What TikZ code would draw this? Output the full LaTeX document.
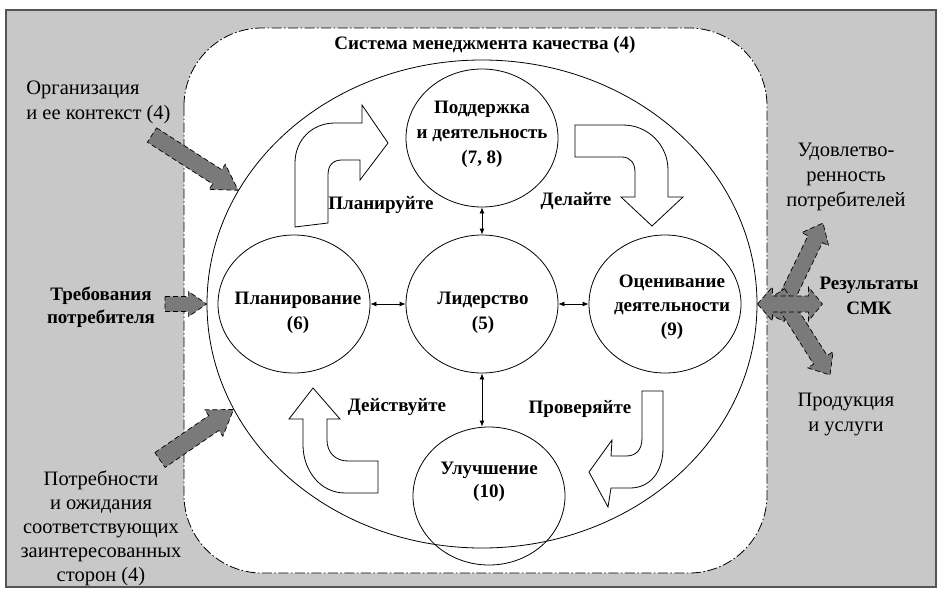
\documentclass[tikz,border=0pt]{standalone}
\usepackage{fontspec}
\setmainfont{Liberation Serif}
\usetikzlibrary{positioning,calc,shapes.geometric,arrows.meta}

\definecolor{bggray}{RGB}{200,200,200}
\definecolor{arrgray}{RGB}{122,122,122}
\definecolor{framegray}{RGB}{85,85,85}

\tikzset{
  bub/.style={draw, ellipse, minimum width=152pt, minimum height=138pt, inner sep=0pt},
  btxt/.style={font=\bfseries\fontsize{19}{25}\selectfont, align=center, inner sep=0pt},
  rtxt/.style={font=\fontsize{20.5}{25}\selectfont, align=center, inner sep=0pt},
  grayarr/.style={draw, fill=arrgray, line width=0.7pt, dash pattern=on 5pt off 3pt},
  turnarr/.style={draw, fill=white, line width=0.8pt},
  dbl/.style={{Latex[length=6pt,width=5pt]}-{Latex[length=6pt,width=5pt]}, line width=0.8pt},
  dashdot/.style={dash pattern=on 10pt off 2.5pt on 1.5pt off 2.5pt}
}

% gray block arrow: tail, tip, shaft half width, head half width, head length
\newcommand\blockarr[5]{%
  \coordinate (ba) at ($(#2)!#5!(#1)$);
  \draw[grayarr] ($(#1)!#3!90:(#2)$) -- ($(ba)!#3!-90:(#1)$) -- ($(ba)!#4!-90:(#1)$) -- (#2)
    -- ($(ba)!#4!90:(#1)$) -- ($(ba)!#3!90:(#1)$) -- ($(#1)!#3!-90:(#2)$) -- cycle;}

\begin{document}
\begin{tikzpicture}[x=1pt,y=-1pt,line width=0.8pt]
\useasboundingbox (0,0) rectangle (947,592);
\draw[framegray, line width=1.5pt, fill=bggray] (6,10) rectangle (936,587);
\draw[fill=white, dashdot, rounded corners=78pt] (184,28) rectangle (767,573);

\node[btxt] (title) at (485,45) {Система менеджмента качества (4)};
\node[draw, ellipse, minimum width=550pt, minimum height=488pt, inner sep=0pt] (qms) at (482,304) {};

% circles
\node[bub] (supp) at (482,138) {};
\node[bub] (plan) at (294,304) {};
\node[bub] (lead) at (482,304) {};
\node[bub] (eval) at (665,304) {};
\node[bub] (impr) at (489,496) {};

\node[btxt] (supptxt) at (482,134) {Поддержка\\и деятельность\\(7, 8)};
\node[btxt] (plantxt) at (298,313) {Планирование\\(6)};
\node[btxt] (leadtxt) at (483,313) {Лидерство\\(5)};
\node[btxt, font=\bfseries\fontsize{19}{24}\selectfont] (evaltxt) at (672,307) {Оценивание\\деятельности\\(9)};
\node[btxt, font=\bfseries\fontsize{19}{23}\selectfont] (imprtxt) at (489,482) {Улучшение\\(10)};

\draw[dbl] (supp) -- (lead);
\draw[dbl] (plan) -- (lead);
\draw[dbl] (lead) -- (eval);
\draw[dbl] (lead.south) -- (lead.south |- impr.north);

% PDCA turn arrows
\draw[turnarr] (295,227) -- (295,163) .. controls (295,140) and (312,123) .. (335,123)
  -- (362,123) -- (362,105) -- (388,143) -- (360,180) -- (360,160) -- (342,160)
  .. controls (333,160) and (328,165) .. (328,175) -- (328,223) -- cycle;
\draw[turnarr] (575,125) -- (623,125) .. controls (648,125) and (668,145) .. (668,170)
  -- (668,197) -- (683,197) -- (652,226) -- (621,197) -- (635,197) -- (635,172)
  .. controls (635,163) and (630,157) .. (622,157) -- (575,157) -- cycle;
\draw[turnarr] (313,388) -- (340,419) -- (327,419) -- (327,440)
  .. controls (327,452) and (335,461) .. (348,461) -- (378,461) -- (378,493) -- (345,493)
  .. controls (320,493) and (303,470) .. (303,445) -- (303,419) -- (289,419) -- cycle;
\draw[turnarr] (642,391) -- (663,391) -- (663,448) .. controls (663,472) and (650,488) .. (630,488)
  -- (611,488) -- (608,507) -- (589,472) -- (612,440) -- (611,456) -- (626,456)
  .. controls (636,456) and (642,450) .. (642,438) -- cycle;

\node[btxt] (plnlbl) at (381,205) {Планируйте};
\node[btxt] (dolbl) at (576,201) {Делайте};
\node[btxt] (actlbl) at (397,407) {Действуйте};
\node[btxt] (chklbl) at (580,409) {Проверяйте};

% outside texts
\node[rtxt, align=left, anchor=west] (orgtxt) at (26,102) {Организация\\и ее контекст (4)};
\node[btxt, font=\bfseries\fontsize{19}{23}\selectfont] (reqtxt) at (101,307) {Требования\\потребителя};
\node[rtxt, font=\fontsize{20.5}{24}\selectfont] (needtxt) at (101,528) {Потребности\\и ожидания\\соответствующих\\заинтересованных\\сторон (4)};
\node[rtxt] (sattxt) at (846,177) {Удовлетво-\\ренность\\потребителей};
\node[btxt] (restxt) at (869,296) {Результаты\\СМК};
\node[rtxt] (prodtxt) at (846,414) {Продукция\\и услуги};

% gray arrows
\coordinate (orgtail) at (152,135);
\coordinate (reqtail) at (165,304);
\coordinate (needtail) at (160,460);
\blockarr{orgtail}{qms.155}{8.5pt}{15pt}{25pt}
\blockarr{reqtail}{qms.west}{7.5pt}{12.5pt}{18pt}
\blockarr{needtail}{qms.203}{9pt}{16pt}{24pt}
\coordinate (uptail) at (777,318);
\coordinate (sattip) at (823,223);
\coordinate (dntail) at (778,293);
\coordinate (prodtip) at (830,375);
\blockarr{uptail}{sattip}{8pt}{15pt}{18pt}
\blockarr{dntail}{prodtip}{8pt}{15pt}{18pt}
\draw[grayarr] (qms.east) -- ++(15,-17) -- ++(0,9) -- ++(36,0) -- ++(0,-9) -- ++(14,17)
  -- ++(-14,17) -- ++(0,-9) -- ++(-36,0) -- ++(0,9) -- cycle;
\end{tikzpicture}
\end{document}
